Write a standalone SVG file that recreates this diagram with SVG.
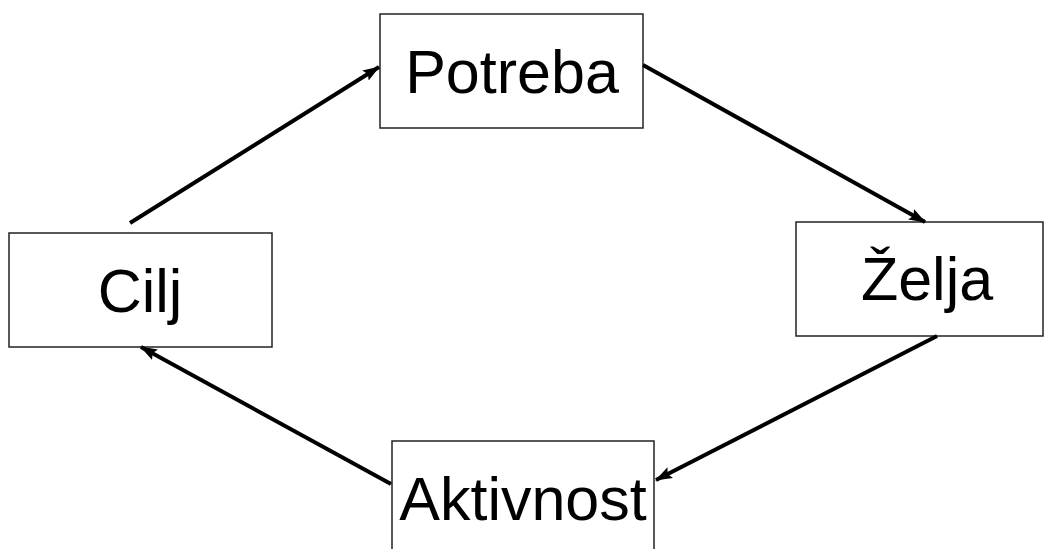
<svg xmlns="http://www.w3.org/2000/svg" width="1044" height="549" viewBox="0 0 1044 549">
<style>
.box{fill:#fff;stroke:#222;stroke-width:1.5}
.lbl{font-family:"Liberation Sans",Arial,sans-serif;font-size:61px;fill:#000;text-anchor:middle}
.con{stroke:#000;stroke-width:4;fill:none;marker-end:url(#ah)}
</style>
<defs>
<marker id="ah" markerUnits="userSpaceOnUse" markerWidth="18" markerHeight="16" refX="16" refY="8" orient="auto">
<path d="M0,2 L17,8 L0,14 L3,8 Z" fill="#000"/>
</marker>
</defs>
<rect width="1044" height="549" fill="#fff"/>
<g id="potreba"><rect class="box" x="380" y="14" width="263" height="114"/><text class="lbl" x="512" y="93">Potreba</text></g>
<g id="cilj"><rect class="box" x="9" y="233" width="263" height="114"/><text class="lbl" x="140" y="312">Cilj</text></g>
<g id="zelja"><rect class="box" x="796" y="222" width="247" height="114"/><text class="lbl" x="927" y="300">Želja</text></g>
<g id="aktivnost"><rect class="box" x="392" y="441" width="262" height="120"/><text class="lbl" x="523" y="520">Aktivnost</text></g>
<g id="connectors">
<line class="con" x1="130" y1="223" x2="379" y2="67"/>
<line class="con" x1="643" y1="65" x2="925" y2="222"/>
<line class="con" x1="937" y1="336" x2="656" y2="480"/>
<line class="con" x1="391" y1="484" x2="141" y2="347"/>
</g>
</svg>
